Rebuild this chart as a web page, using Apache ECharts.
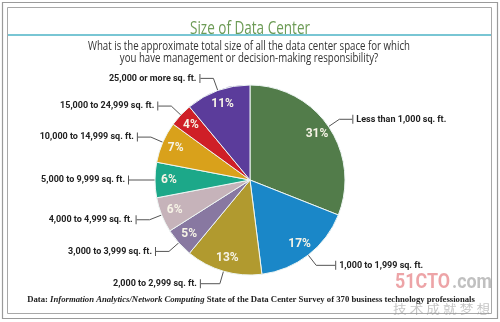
<!DOCTYPE html>
<html>
<head>
<meta charset="utf-8">
<script src="https://cdn.jsdelivr.net/npm/echarts@6/dist/echarts.min.js"></script>
<style>
  html, body { margin: 0; padding: 0; background: #fff; }
  #chart { width: 500px; height: 322px; }
</style>
</head>
<body>
<div id="chart"></div>
<script>
// ---- data ----
const categories = [
  'Less than 1,000 sq. ft.',
  '1,000 to 1,999 sq. ft.',
  '2,000 to 2,999 sq. ft.',
  '3,000 to 3,999 sq. ft.',
  '4,000 to 4,999 sq. ft.',
  '5,000 to 9,999 sq. ft.',
  '10,000 to 14,999 sq. ft.',
  '15,000 to 24,999 sq. ft.',
  '25,000 or more sq. ft.'
];
const percentages = [31, 17, 13, 5, 6, 6, 7, 4, 11];

const titleText = 'Size of Data Center';
const questionLines = [
  'What is the approximate total size of all the data center space for which',
  'you have management or decision-making responsibility?'
];
const sourcePrefix = 'Data: ';
const sourceItalic = 'Information Analytics/Network Computing';
const sourceRest = ' State of the Data Center Survey of 370 business technology professionals';

// ---- styles ----
const sliceColors = ['#527c4a', '#1a87c8', '#b19a2f', '#8878a1', '#c6b3ba', '#1ca889', '#d9a11b', '#cf1f27', '#5b3c9b'];
const extraLen2 = [0, 6, 6, 0, 0, 0, 0, 0, 0];
const SANS = '"Open Sans", "Noto Sans", sans-serif';
const LABEL_FONT = 'Roboto, "Liberation Sans", sans-serif';
const SERIF = '"Liberation Serif", "DejaVu Serif", serif';

const measureCtx = document.createElement('canvas').getContext('2d');
function widthOf(text, font) { measureCtx.font = font; return measureCtx.measureText(text).width; }
function fitScale(text, font, target) { return target / widthOf(text, font); }

const total = percentages.reduce((a, b) => a + b, 0);
let cum = 0;
const rightSide = percentages.map(v => { const mid = cum + v / 2; cum += v; return mid < total / 2; });

const outerData = categories.map((name, i) => ({
  name: name,
  value: percentages[i],
  itemStyle: { color: sliceColors[i] },
  labelLine: { length2: 13 + extraLen2[i] }
}));
const innerData = categories.map((name, i) => ({ name: name, value: percentages[i] }));

const titleFont = 'normal 19px ' + SANS;
const qFont = 'normal 12.5px ' + SANS;
const qScale = fitScale(questionLines[0], qFont, 322);
const wmFont = 'bold 21px Roboto, sans-serif';
const cnFont = '12px "Noto Sans CJK SC"';
const cnText = '技 术 成 就 梦 想';

const chart = echarts.init(document.getElementById('chart'), null, { renderer: 'canvas' });
chart.setOption({
  animation: false,
  backgroundColor: '#ffffff',
  title: [
    {
      text: '{n|' + sourcePrefix + '}{i|' + sourceItalic + '}{n|' + sourceRest + '}',
      left: 251, top: 295, padding: 0, textAlign: 'center',
      textStyle: {
        rich: {
          n: { fontFamily: SERIF, fontSize: 8.7, color: '#222' },
          i: { fontFamily: SERIF, fontSize: 8.7, fontStyle: 'italic', color: '#222' }
        }
      }
    }
  ],
  graphic: [
    { type: 'rect', shape: { x: 2.5, y: 2.5, width: 495, height: 316 }, style: { fill: '#ffffff', stroke: '#9a9a9a', lineWidth: 1.2 }, z: -10 },
    { type: 'rect', shape: { x: 7.5, y: 7.5, width: 484, height: 306 }, style: { fill: '#ffffff', stroke: '#a8a8a8', lineWidth: 1 }, z: -9 },
    { type: 'line', shape: { x1: 8, y1: 35, x2: 491, y2: 35 }, style: { stroke: '#4db3c6', lineWidth: 1.5 }, z: -8 },
    { type: 'text', x: 250, y: 28.5, scaleX: fitScale(titleText, titleFont, 120), z: 5,
      style: { text: titleText, font: titleFont, fill: '#6c9b55', textAlign: 'center', textVerticalAlign: 'middle' } },
    { type: 'text', x: 249, y: 46, scaleX: qScale, z: 5,
      style: { text: questionLines[0], font: qFont, fill: '#333', textAlign: 'center', textVerticalAlign: 'middle' } },
    { type: 'text', x: 249, y: 58.5, scaleX: qScale, z: 5,
      style: { text: questionLines[1], font: qFont, fill: '#333', textAlign: 'center', textVerticalAlign: 'middle' } },
    { type: 'text', x: 395, y: 283, scaleX: fitScale('51CTO', wmFont, 55), z: 20,
      style: { text: '51CTO', font: wmFont, fill: 'rgba(222,90,95,0.55)', textAlign: 'left', textVerticalAlign: 'middle' } },
    { type: 'text', x: 452, y: 283, scaleX: fitScale('.com', wmFont, 40), z: 20,
      style: { text: '.com', font: wmFont, fill: 'rgba(140,140,140,0.55)', textAlign: 'left', textVerticalAlign: 'middle' } },
    { type: 'text', x: 393, y: 309, scaleX: fitScale(cnText, cnFont, 97), z: 20,
      style: { text: cnText, font: cnFont, fill: 'rgba(150,150,150,0.55)', textAlign: 'left', textVerticalAlign: 'middle' } }
  ],
  series: [
    {
      type: 'pie',
      center: [250, 180],
      radius: [0, 95],
      startAngle: 90,
      clockwise: true,
      avoidLabelOverlap: true,
      itemStyle: { borderColor: '#eef6f4', borderWidth: 1 },
      label: {
        show: true,
        position: 'outside',
        distanceToLabelLine: 0,
        formatter: p => rightSide[p.dataIndex] ? '{t|}{g|}{n|' + p.name + '}' : '{n|' + p.name + '}{g|}{t|}',
        rich: {
          n: { fontFamily: LABEL_FONT, fontSize: 9, fontWeight: 'bold', color: '#222' },
          g: { width: 3, height: 8 },
          t: { width: 1, height: 9, backgroundColor: '#555' }
        }
      },
      labelLine: { show: true, length: 13, length2: 13, smooth: false, lineStyle: { color: '#555', width: 1 } },
      emphasis: { disabled: true },
      data: outerData
    },
    {
      type: 'pie',
      center: [250, 180],
      radius: [61, 95],
      startAngle: 90,
      clockwise: true,
      silent: true,
      itemStyle: { color: 'rgba(0,0,0,0)', borderWidth: 0 },
      label: {
        show: true,
        position: 'inside',
        formatter: p => p.value + '%',
        fontFamily: LABEL_FONT, fontSize: 12, fontWeight: 'bold', color: '#f6f3e6'
      },
      labelLine: { show: false },
      emphasis: { disabled: true },
      data: innerData
    }
  ]
});
</script>
</body>
</html>
